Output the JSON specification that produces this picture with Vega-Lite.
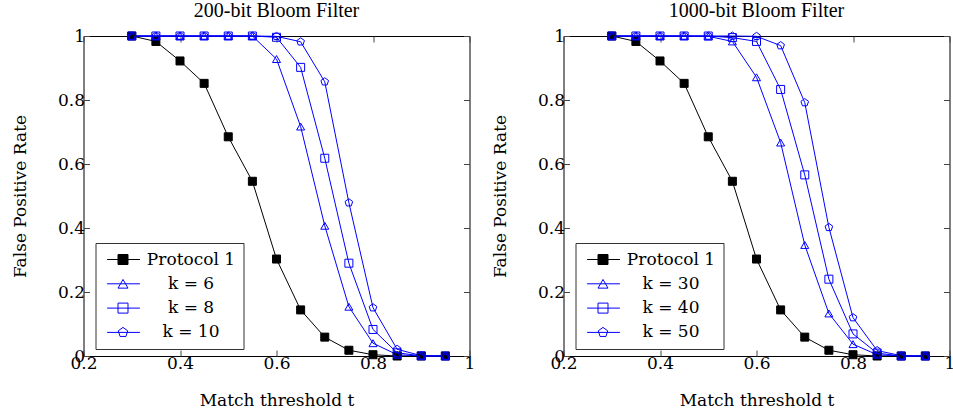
{
  "$schema": "https://vega.github.io/schema/vega-lite/v6.json",
  "padding": {"left": 10.5, "top": 0, "right": 0, "bottom": 0},
  "config": {
    "font": "DejaVu Serif",
    "view": {"stroke": "black", "strokeWidth": 1},
    "style": {
      "guide-label": {"font": "DejaVu Serif", "fontSize": 17, "fill": "black"},
      "guide-title": {"font": "DejaVu Serif", "fontSize": 17, "fill": "black", "fontWeight": "normal"}
    },
    "axis": {"labelFont": "DejaVu Serif", "labelFontSize": 17, "labelColor": "black", "titleFont": "DejaVu Serif", "titleFontSize": 17, "titleFontWeight": "normal", "titleColor": "black", "grid": false, "domain": false, "tickColor": "#444", "tickSize": -6, "labelFlush": false, "labelOverlap": false},
    "title": {"font": "Times New Roman", "fontSize": 20, "fontWeight": "normal", "color": "black"},
    "legend": {"labelFont": "DejaVu Serif", "labelFontSize": 17, "labelColor": "black"}
  },
  "datasets": {
    "p200": [
      {"series": "Protocol 1", "t": 0.3, "fpr": 1}, {"series": "Protocol 1", "t": 0.35, "fpr": 0.983}, {"series": "Protocol 1", "t": 0.4, "fpr": 0.922}, {"series": "Protocol 1", "t": 0.45, "fpr": 0.852}, {"series": "Protocol 1", "t": 0.5, "fpr": 0.685}, {"series": "Protocol 1", "t": 0.55, "fpr": 0.546}, {"series": "Protocol 1", "t": 0.6, "fpr": 0.303}, {"series": "Protocol 1", "t": 0.65, "fpr": 0.144}, {"series": "Protocol 1", "t": 0.7, "fpr": 0.059}, {"series": "Protocol 1", "t": 0.75, "fpr": 0.018}, {"series": "Protocol 1", "t": 0.8, "fpr": 0.004}, {"series": "Protocol 1", "t": 0.85, "fpr": 0}, {"series": "Protocol 1", "t": 0.9, "fpr": 0}, {"series": "Protocol 1", "t": 0.95, "fpr": 0},
      {"series": "k = 6", "t": 0.3, "fpr": 1}, {"series": "k = 6", "t": 0.35, "fpr": 1}, {"series": "k = 6", "t": 0.4, "fpr": 1}, {"series": "k = 6", "t": 0.45, "fpr": 1}, {"series": "k = 6", "t": 0.5, "fpr": 1}, {"series": "k = 6", "t": 0.55, "fpr": 1}, {"series": "k = 6", "t": 0.6, "fpr": 0.928}, {"series": "k = 6", "t": 0.65, "fpr": 0.717}, {"series": "k = 6", "t": 0.7, "fpr": 0.407}, {"series": "k = 6", "t": 0.75, "fpr": 0.154}, {"series": "k = 6", "t": 0.8, "fpr": 0.04}, {"series": "k = 6", "t": 0.85, "fpr": 0.004}, {"series": "k = 6", "t": 0.9, "fpr": 0}, {"series": "k = 6", "t": 0.95, "fpr": 0},
      {"series": "k = 8", "t": 0.3, "fpr": 1}, {"series": "k = 8", "t": 0.35, "fpr": 1}, {"series": "k = 8", "t": 0.4, "fpr": 1}, {"series": "k = 8", "t": 0.45, "fpr": 1}, {"series": "k = 8", "t": 0.5, "fpr": 1}, {"series": "k = 8", "t": 0.55, "fpr": 1}, {"series": "k = 8", "t": 0.6, "fpr": 0.996}, {"series": "k = 8", "t": 0.65, "fpr": 0.902}, {"series": "k = 8", "t": 0.7, "fpr": 0.618}, {"series": "k = 8", "t": 0.75, "fpr": 0.29}, {"series": "k = 8", "t": 0.8, "fpr": 0.083}, {"series": "k = 8", "t": 0.85, "fpr": 0.01}, {"series": "k = 8", "t": 0.9, "fpr": 0.0005}, {"series": "k = 8", "t": 0.95, "fpr": 0},
      {"series": "k = 10", "t": 0.3, "fpr": 1}, {"series": "k = 10", "t": 0.35, "fpr": 1}, {"series": "k = 10", "t": 0.4, "fpr": 1}, {"series": "k = 10", "t": 0.45, "fpr": 1}, {"series": "k = 10", "t": 0.5, "fpr": 1}, {"series": "k = 10", "t": 0.55, "fpr": 1}, {"series": "k = 10", "t": 0.6, "fpr": 0.999}, {"series": "k = 10", "t": 0.65, "fpr": 0.982}, {"series": "k = 10", "t": 0.7, "fpr": 0.857}, {"series": "k = 10", "t": 0.75, "fpr": 0.479}, {"series": "k = 10", "t": 0.8, "fpr": 0.151}, {"series": "k = 10", "t": 0.85, "fpr": 0.021}, {"series": "k = 10", "t": 0.9, "fpr": 0.001}, {"series": "k = 10", "t": 0.95, "fpr": 0}
    ],
    "p1000": [
      {"series": "Protocol 1", "t": 0.3, "fpr": 1}, {"series": "Protocol 1", "t": 0.35, "fpr": 0.983}, {"series": "Protocol 1", "t": 0.4, "fpr": 0.922}, {"series": "Protocol 1", "t": 0.45, "fpr": 0.852}, {"series": "Protocol 1", "t": 0.5, "fpr": 0.685}, {"series": "Protocol 1", "t": 0.55, "fpr": 0.546}, {"series": "Protocol 1", "t": 0.6, "fpr": 0.303}, {"series": "Protocol 1", "t": 0.65, "fpr": 0.144}, {"series": "Protocol 1", "t": 0.7, "fpr": 0.059}, {"series": "Protocol 1", "t": 0.75, "fpr": 0.018}, {"series": "Protocol 1", "t": 0.8, "fpr": 0.004}, {"series": "Protocol 1", "t": 0.85, "fpr": 0}, {"series": "Protocol 1", "t": 0.9, "fpr": 0}, {"series": "Protocol 1", "t": 0.95, "fpr": 0},
      {"series": "k = 30", "t": 0.3, "fpr": 1}, {"series": "k = 30", "t": 0.35, "fpr": 1}, {"series": "k = 30", "t": 0.4, "fpr": 1}, {"series": "k = 30", "t": 0.45, "fpr": 1}, {"series": "k = 30", "t": 0.5, "fpr": 0.999}, {"series": "k = 30", "t": 0.55, "fpr": 0.983}, {"series": "k = 30", "t": 0.6, "fpr": 0.871}, {"series": "k = 30", "t": 0.65, "fpr": 0.667}, {"series": "k = 30", "t": 0.7, "fpr": 0.347}, {"series": "k = 30", "t": 0.75, "fpr": 0.133}, {"series": "k = 30", "t": 0.8, "fpr": 0.037}, {"series": "k = 30", "t": 0.85, "fpr": 0.004}, {"series": "k = 30", "t": 0.9, "fpr": 0}, {"series": "k = 30", "t": 0.95, "fpr": 0},
      {"series": "k = 40", "t": 0.3, "fpr": 1}, {"series": "k = 40", "t": 0.35, "fpr": 1}, {"series": "k = 40", "t": 0.4, "fpr": 1}, {"series": "k = 40", "t": 0.45, "fpr": 1}, {"series": "k = 40", "t": 0.5, "fpr": 1}, {"series": "k = 40", "t": 0.55, "fpr": 0.995}, {"series": "k = 40", "t": 0.6, "fpr": 0.983}, {"series": "k = 40", "t": 0.65, "fpr": 0.833}, {"series": "k = 40", "t": 0.7, "fpr": 0.566}, {"series": "k = 40", "t": 0.75, "fpr": 0.24}, {"series": "k = 40", "t": 0.8, "fpr": 0.069}, {"series": "k = 40", "t": 0.85, "fpr": 0.009}, {"series": "k = 40", "t": 0.9, "fpr": 0}, {"series": "k = 40", "t": 0.95, "fpr": 0},
      {"series": "k = 50", "t": 0.3, "fpr": 1}, {"series": "k = 50", "t": 0.35, "fpr": 1}, {"series": "k = 50", "t": 0.4, "fpr": 1}, {"series": "k = 50", "t": 0.45, "fpr": 1}, {"series": "k = 50", "t": 0.5, "fpr": 1}, {"series": "k = 50", "t": 0.55, "fpr": 1}, {"series": "k = 50", "t": 0.6, "fpr": 0.999}, {"series": "k = 50", "t": 0.65, "fpr": 0.97}, {"series": "k = 50", "t": 0.7, "fpr": 0.792}, {"series": "k = 50", "t": 0.75, "fpr": 0.402}, {"series": "k = 50", "t": 0.8, "fpr": 0.12}, {"series": "k = 50", "t": 0.85, "fpr": 0.017}, {"series": "k = 50", "t": 0.9, "fpr": 0.001}, {"series": "k = 50", "t": 0.95, "fpr": 0}
    ]
  },
  "spacing": 94,
  "bounds": "flush",
  "resolve": {
    "scale": {"color": "independent", "shape": "independent", "fill": "independent", "stroke": "independent"},
    "legend": {"color": "independent", "shape": "independent", "fill": "independent", "stroke": "independent"}
  },
  "hconcat": [
    {
      "width": 386, "height": 320,
      "title": {"text": "200-bit Bloom Filter", "offset": 6},
      "data": {"name": "p200"},
      "layer": [
        {
          "mark": {"type": "line", "strokeWidth": 1},
          "encoding": {
            "x": {"field": "t", "type": "quantitative", "scale": {"domain": [0.2, 1]}, "axis": {"orient": "bottom", "values": [0.2, 0.4, 0.6, 0.8, 1], "format": ".1~f", "title": "Match threshold t", "labelFont": "DejaVu Serif", "titleFont": "DejaVu Serif", "labelPadding": 5, "titlePadding": 21}},
            "y": {"field": "fpr", "type": "quantitative", "scale": {"domain": [0, 1]}, "axis": {"orient": "left", "values": [0, 0.2, 0.4, 0.6, 0.8, 1], "format": ".1~f", "title": "False Positive Rate", "labelFont": "DejaVu Serif", "titleFont": "DejaVu Serif", "labelPadding": 5, "titlePadding": 28}},
            "color": {"field": "series", "type": "nominal", "scale": {"domain": ["Protocol 1", "k = 6", "k = 8", "k = 10"], "range": ["black", "blue", "blue", "blue"]},
              "legend": {"orient": "none", "legendX": 12, "legendY": 207, "title": null, "labelFont": "DejaVu Serif", "labelFontSize": 17, "symbolType": "M-4.1,0H4.1", "symbolSize": 64, "symbolStrokeWidth": 1, "symbolOffset": 11.5, "labelAlign": "center", "labelOffset": 59, "strokeColor": "#333", "padding": 8, "rowPadding": 6.3}}
          }
        },
        {
          "mark": {"type": "point", "strokeWidth": 1, "opacity": 1, "size": 64},
          "encoding": {
            "x": {"field": "t", "type": "quantitative", "scale": {"domain": [0.2, 1]}, "axis": {"orient": "top", "values": [0.2, 0.4, 0.6, 0.8, 1], "labels": false, "title": null}},
            "y": {"field": "fpr", "type": "quantitative", "scale": {"domain": [0, 1]}, "axis": {"orient": "right", "values": [0, 0.2, 0.4, 0.6, 0.8, 1], "labels": false, "title": null}},
            "shape": {"field": "series", "type": "nominal", "scale": {"domain": ["Protocol 1", "k = 6", "k = 8", "k = 10"], "range": ["square", "triangle-up", "square", "M0,-1L0.951,-0.309L0.588,0.809L-0.588,0.809L-0.951,-0.309Z"]},
              "legend": {"orient": "none", "legendX": 12, "legendY": 207, "title": null, "labelFontSize": 17, "labelExpr": "' '", "symbolOffset": 11, "labelOpacity": 0, "padding": 8, "rowPadding": 6.3, "symbolStrokeWidth": 1}},
            "fill": {"field": "series", "type": "nominal", "scale": {"domain": ["Protocol 1", "k = 6", "k = 8", "k = 10"], "range": ["black", "transparent", "transparent", "transparent"]},
              "legend": {"orient": "none", "legendX": 12, "legendY": 207, "title": null, "labelFontSize": 17, "labelExpr": "' '", "symbolOffset": 11, "labelOpacity": 0, "padding": 8, "rowPadding": 6.3, "symbolStrokeWidth": 1}},
            "stroke": {"field": "series", "type": "nominal", "scale": {"domain": ["Protocol 1", "k = 6", "k = 8", "k = 10"], "range": ["black", "blue", "blue", "blue"]},
              "legend": {"orient": "none", "legendX": 12, "legendY": 207, "title": null, "labelFontSize": 17, "labelExpr": "' '", "symbolOffset": 11, "labelOpacity": 0, "padding": 8, "rowPadding": 6.3, "symbolStrokeWidth": 1}}
          }
        }
      ],
      "resolve": {
        "axis": {"x": "independent", "y": "independent"},
        "legend": {"color": "independent", "shape": "independent", "fill": "independent", "stroke": "independent"}
      }
    },
    {
      "width": 386, "height": 320,
      "title": {"text": "1000-bit Bloom Filter", "offset": 6},
      "data": {"name": "p1000"},
      "layer": [
        {
          "mark": {"type": "line", "strokeWidth": 1},
          "encoding": {
            "x": {"field": "t", "type": "quantitative", "scale": {"domain": [0.2, 1]}, "axis": {"orient": "bottom", "values": [0.2, 0.4, 0.6, 0.8, 1], "format": ".1~f", "title": "Match threshold t", "labelFont": "DejaVu Serif", "titleFont": "DejaVu Serif", "labelPadding": 5, "titlePadding": 21}},
            "y": {"field": "fpr", "type": "quantitative", "scale": {"domain": [0, 1]}, "axis": {"orient": "left", "values": [0, 0.2, 0.4, 0.6, 0.8, 1], "format": ".1~f", "title": "False Positive Rate", "labelFont": "DejaVu Serif", "titleFont": "DejaVu Serif", "labelPadding": 5, "titlePadding": 28}},
            "color": {"field": "series", "type": "nominal", "scale": {"domain": ["Protocol 1", "k = 30", "k = 40", "k = 50"], "range": ["black", "blue", "blue", "blue"]},
              "legend": {"orient": "none", "legendX": 12, "legendY": 207, "title": null, "labelFont": "DejaVu Serif", "labelFontSize": 17, "symbolType": "M-4.1,0H4.1", "symbolSize": 64, "symbolStrokeWidth": 1, "symbolOffset": 11.5, "labelAlign": "center", "labelOffset": 59, "strokeColor": "#333", "padding": 8, "rowPadding": 6.3}}
          }
        },
        {
          "mark": {"type": "point", "strokeWidth": 1, "opacity": 1, "size": 64},
          "encoding": {
            "x": {"field": "t", "type": "quantitative", "scale": {"domain": [0.2, 1]}, "axis": {"orient": "top", "values": [0.2, 0.4, 0.6, 0.8, 1], "labels": false, "title": null}},
            "y": {"field": "fpr", "type": "quantitative", "scale": {"domain": [0, 1]}, "axis": {"orient": "right", "values": [0, 0.2, 0.4, 0.6, 0.8, 1], "labels": false, "title": null}},
            "shape": {"field": "series", "type": "nominal", "scale": {"domain": ["Protocol 1", "k = 30", "k = 40", "k = 50"], "range": ["square", "triangle-up", "square", "M0,-1L0.951,-0.309L0.588,0.809L-0.588,0.809L-0.951,-0.309Z"]},
              "legend": {"orient": "none", "legendX": 12, "legendY": 207, "title": null, "labelFontSize": 17, "labelExpr": "' '", "symbolOffset": 11, "labelOpacity": 0, "padding": 8, "rowPadding": 6.3, "symbolStrokeWidth": 1}},
            "fill": {"field": "series", "type": "nominal", "scale": {"domain": ["Protocol 1", "k = 30", "k = 40", "k = 50"], "range": ["black", "transparent", "transparent", "transparent"]},
              "legend": {"orient": "none", "legendX": 12, "legendY": 207, "title": null, "labelFontSize": 17, "labelExpr": "' '", "symbolOffset": 11, "labelOpacity": 0, "padding": 8, "rowPadding": 6.3, "symbolStrokeWidth": 1}},
            "stroke": {"field": "series", "type": "nominal", "scale": {"domain": ["Protocol 1", "k = 30", "k = 40", "k = 50"], "range": ["black", "blue", "blue", "blue"]},
              "legend": {"orient": "none", "legendX": 12, "legendY": 207, "title": null, "labelFontSize": 17, "labelExpr": "' '", "symbolOffset": 11, "labelOpacity": 0, "padding": 8, "rowPadding": 6.3, "symbolStrokeWidth": 1}}
          }
        }
      ],
      "resolve": {
        "axis": {"x": "independent", "y": "independent"},
        "legend": {"color": "independent", "shape": "independent", "fill": "independent", "stroke": "independent"}
      }
    }
  ]
}
